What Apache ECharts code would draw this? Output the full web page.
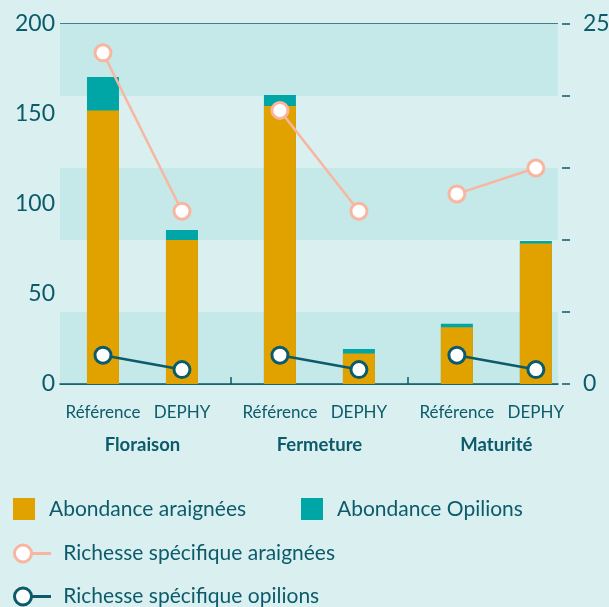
<!DOCTYPE html>
<html>
<head>
<meta charset="utf-8">
<script src="https://cdn.jsdelivr.net/npm/echarts@6/dist/echarts.min.js"></script>
<style>
  html, body { margin: 0; padding: 0; background: #daeff0; }
  #chart { width: 609px; height: 607px; }
</style>
</head>
<body>
<div id="chart"></div>
<script>
// stades et systèmes
const groups = ["Floraison", "Fermeture", "Maturité"];
const systems = ["Référence", "DEPHY"];

// abondance (axe gauche), ordre : Floraison Réf, Floraison DEPHY, Fermeture Réf, ...
const abondanceAraignees = [152, 80, 154.5, 17, 31.5, 78];
const abondanceOpilions = [18.5, 5.5, 6, 2.5, 2, 1.5];

// richesse spécifique (axe droit)
const richesseAraignees = [23, 12, 19, 12, 13.2, 15];
const richesseOpilions = [2, 1, 2, 1, 2, 1];

const leftTicks = [0, 50, 100, 150, 200];
const rightTicks = [0, 25];

const DARK = "#0c5b6b";
const ORANGE = "#e1a200";
const TEAL = "#00a5a5";
const PEACH = "#f8b6a0";
const BG = "#daeff0";
const BAND = "#c5e8e8";
const FONT = "Lato";

// position of each bar on the x axis: groups spaced apart, two bars per group
const GROUP_STEP = 2.24;
const positions = [];
const labels = [];
groups.forEach((g, gi) => {
  systems.forEach((s, si) => {
    positions.push(gi * GROUP_STEP + (si - 0.5));
    labels.push(s);
  });
});
const groupCenters = groups.map((g, gi) => gi * GROUP_STEP);
const groupBounds = [GROUP_STEP / 2, GROUP_STEP * 1.5];

function nearestIndex(arr, v) {
  let best = 0;
  arr.forEach((x, i) => { if (Math.abs(x - v) < Math.abs(arr[best] - v)) best = i; });
  return best;
}

const xMin = -1.044, xMax = 5.26;

const circleLineIcon = "path://M1.5,10A8.5,8.5,0,1,1,18.5,10A8.5,8.5,0,1,1,1.5,10ZM18.5,10L38,10";

// opilions sit on top of the spiders: draw the total behind, spiders in front
const series = [
  {
    name: "Abondance Opilions",
    type: "bar",
    barWidth: 32,
    barGap: "-100%",
    itemStyle: { color: TEAL },
    data: positions.map((x, i) => [x, abondanceAraignees[i] + abondanceOpilions[i]])
  },
  {
    name: "Abondance araignées",
    type: "bar",
    barWidth: 32,
    barGap: "-100%",
    itemStyle: { color: ORANGE },
    data: positions.map((x, i) => [x, abondanceAraignees[i]])
  }
];

// one line per stage so that stages are not joined together
groups.forEach((g, gi) => {
  const idx = [gi * 2, gi * 2 + 1];
  series.push({
    name: "Richesse spécifique araignées",
    type: "line",
    yAxisIndex: 1,
    symbol: "circle",
    symbolSize: 16,
    z: 5,
    itemStyle: { color: "#fff", borderColor: PEACH, borderWidth: 3 },
    lineStyle: { color: PEACH, width: 2.5 },
    data: idx.map(i => [positions[i], richesseAraignees[i]])
  });
  series.push({
    name: "Richesse spécifique opilions",
    type: "line",
    yAxisIndex: 1,
    symbol: "circle",
    symbolSize: 16,
    z: 5,
    itemStyle: { color: "#fff", borderColor: DARK, borderWidth: 3 },
    lineStyle: { color: DARK, width: 2.5 },
    data: idx.map(i => [positions[i], richesseOpilions[i]])
  });
});

const legendText = { color: DARK, fontFamily: FONT, fontSize: 21, padding: [0, 0, 0, 9] };
const lineLegendText = Object.assign({}, legendText, { padding: [0, 0, 0, 7] });

const chart = echarts.init(document.getElementById("chart"));
chart.setOption({
  animation: false,
  backgroundColor: BG,
  textStyle: { fontFamily: FONT },
  grid: { left: 60, right: 51, top: 24, bottom: 223, outerBoundsMode: "none" },
  legend: [
    {
      left: 13, top: 498, padding: 0, itemWidth: 22, itemHeight: 22, icon: "rect",
      selectedMode: false, textStyle: legendText,
      data: ["Abondance araignées"]
    },
    {
      left: 301, top: 498, padding: 0, itemWidth: 22, itemHeight: 22, icon: "rect",
      selectedMode: false, textStyle: legendText,
      data: ["Abondance Opilions"]
    },
    {
      left: 13, top: 543, padding: 0, itemWidth: 37, itemHeight: 17,
      selectedMode: false, textStyle: lineLegendText,
      data: [{
        name: "Richesse spécifique araignées", icon: circleLineIcon,
        itemStyle: { color: "#fff", borderColor: PEACH, borderWidth: 3 }
      }]
    },
    {
      left: 13, top: 586, padding: 0, itemWidth: 37, itemHeight: 17,
      selectedMode: false, textStyle: lineLegendText,
      data: [{
        name: "Richesse spécifique opilions", icon: circleLineIcon,
        itemStyle: { color: "#fff", borderColor: DARK, borderWidth: 3 }
      }]
    }
  ],
  xAxis: [
    {
      type: "value",
      min: xMin,
      max: xMax,
      position: "bottom",
      axisLine: { show: true, onZero: false, lineStyle: { color: DARK, width: 1.5 } },
      axisTick: {
        show: true, inside: true, length: 7,
        customValues: groupBounds,
        lineStyle: { color: DARK, width: 1.5 }
      },
      splitLine: { show: false },
      axisLabel: {
        customValues: positions,
        margin: 20,
        color: DARK,
        fontFamily: FONT,
        fontSize: 17,
        formatter: v => labels[nearestIndex(positions, v)]
      }
    },
    {
      type: "value",
      min: xMin,
      max: xMax,
      position: "bottom",
      offset: 34,
      axisLine: { show: false, onZero: false },
      axisTick: { show: false },
      splitLine: { show: false },
      axisLabel: {
        customValues: groupCenters,
        margin: 18,
        color: DARK,
        fontFamily: FONT,
        fontSize: 18.5,
        fontWeight: "bold",
        formatter: v => groups[nearestIndex(groupCenters, v)]
      }
    }
  ],
  yAxis: [
    {
      type: "value",
      min: 0,
      max: 200,
      interval: 50,
      axisLine: { show: false, onZero: false },
      axisTick: { show: false },
      splitLine: { show: true, lineStyle: { color: DARK, width: 1.5 } },
      axisLabel: {
        margin: 5,
        color: DARK,
        fontFamily: FONT,
        fontSize: 23,
        formatter: v => (leftTicks.indexOf(v) >= 0 ? String(v) : "")
      }
    },
    {
      type: "value",
      position: "right",
      min: 0,
      max: 25,
      interval: 5,
      offset: 4,
      axisLine: { show: false, onZero: false },
      axisTick: { show: true, length: 8, lineStyle: { color: DARK, width: 1.5 } },
      splitLine: { show: false },
      splitArea: { show: true, areaStyle: { color: [BAND, BG] } },
      axisLabel: {
        margin: 21,
        color: DARK,
        fontFamily: FONT,
        fontSize: 23,
        formatter: v => (rightTicks.indexOf(v) >= 0 ? String(v) : "")
      }
    }
  ],
  series: series
});
</script>
</body>
</html>
